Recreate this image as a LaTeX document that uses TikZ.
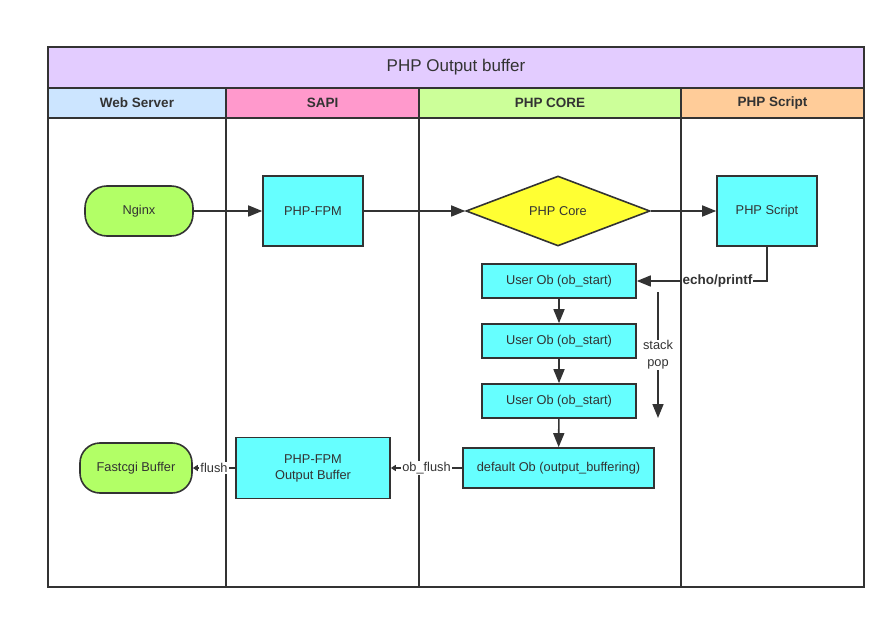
\documentclass[tikz,border=0pt]{standalone}
\usepackage{fontspec}
\setmainfont{Liberation Sans}
\usepackage{tikz}
\usetikzlibrary{arrows.meta}
\usetikzlibrary{shapes.geometric}

\definecolor{darkline}{RGB}{51,51,51}
\definecolor{titlebg}{RGB}{227,204,255}
\definecolor{webbg}{RGB}{204,229,255}
\definecolor{sapibg}{RGB}{255,153,204}
\definecolor{corebg}{RGB}{204,255,153}
\definecolor{scriptbg}{RGB}{255,204,153}
\definecolor{procfill}{RGB}{102,255,255}
\definecolor{termfill}{RGB}{178,255,102}
\definecolor{decfill}{RGB}{255,255,51}

\begin{document}
\begin{tikzpicture}[x=1pt,y=-1pt]
				\useasboundingbox (0,0) rectangle (896,620);
				% lanes
				\draw [darkline, line width=1.6pt] (48,118) rectangle (864,587);
				\foreach \x in {226,419,681}
					\draw [darkline, line width=1.6pt] (\x,118) -- (\x,587);
				\begin{scope}[every node/.style = {draw=darkline, line width=1.6pt, text=darkline, inner sep=0pt},
					lane/.style = {rectangle, minimum height=30pt, font=\bfseries\fontsize{13.5}{15}\selectfont}]
					\node [fill=titlebg, minimum width=816pt, minimum height=41pt, font=\fontsize{17}{19}\selectfont] (title) at (456,67.5) {PHP Output buffer};
					\node [lane, fill=webbg, minimum width=178pt] (web) at (137,103) {Web Server};
					\node [lane, fill=sapibg, minimum width=193pt] (sapi) at (322.5,103) {SAPI};
					\node [lane, fill=corebg, minimum width=262pt] (phpcore) at (550,103) {PHP CORE};
					\node [lane, fill=scriptbg, minimum width=183pt] (phpscript) at (772.5,103) {PHP Script};
				\end{scope}
				\begin{scope}[every node/.style = {draw=darkline, line width=1.6pt, text=darkline, inner sep=0pt,
						align=center, font=\fontsize{12.8}{16}\selectfont},
					proc/.style = {rectangle, fill=procfill},
					term/.style = {rectangle, rounded corners=22pt, fill=termfill}]
					\node [term, minimum width=108pt, minimum height=50pt] (nginx) at (139,211) {Nginx};
					\node [proc, minimum width=100pt, minimum height=70pt] (fpm) at (313,211) {PHP-FPM};
					\node [diamond, fill=decfill, minimum width=184pt, minimum height=70pt] (core) at (558,211) {PHP Core};
					\node [proc, minimum width=100pt, minimum height=70pt] (script) at (767,211) {PHP Script};
					\node [proc, minimum width=154pt, minimum height=34pt] (ob1) at (559,281) {User Ob (ob\_start)};
					\node [proc, minimum width=154pt, minimum height=34pt] (ob2) at (559,341) {User Ob (ob\_start)};
					\node [proc, minimum width=154pt, minimum height=34pt] (ob3) at (559,401) {User Ob (ob\_start)};
					\node [proc, minimum width=191pt, minimum height=40pt] (dflt) at (558.5,468) {default Ob (output\_buffering)};
					\node [proc, minimum width=154pt, minimum height=61pt] (fpmbuf) at (313,468) {PHP-FPM\\Output Buffer};
					\node [term, rounded corners=20pt, minimum width=112pt, minimum height=50pt] (fastcgi) at (136,468) {Fastcgi Buffer};
				\end{scope}
				\coordinate (popstart) at (658,292);
				\coordinate (popend) at (658,418);
				\begin{scope}[>={Triangle[length=14pt, width=11pt]},
						every edge/.style={draw=darkline, line width=1.6pt},
						every node/.style={fill=white, text=darkline, inner sep=1pt, font=\fontsize{12.8}{17}\selectfont}]
					\path [->] (nginx) edge (fpm);
					\path [->] (fpm) edge (core);
					\path [->] (core) edge (script);
					\draw [->, darkline, line width=1.6pt] (script) |- node [pos=0.69, font=\bfseries\fontsize{13.5}{15}\selectfont] {echo/printf} (ob1);
					\path [->] (ob1) edge (ob2);
					\path [->] (ob2) edge (ob3);
					\path [->] (ob3) edge (dflt);
					\path [->] (popstart) edge node [align=center] {stack\\pop} (popend);
					\path [-{Triangle[length=5pt, width=6pt]}] (dflt) edge node {ob\_flush} (fpmbuf);
					\path [-{Triangle[length=5pt, width=6pt]}] (fpmbuf) edge node {flush} (fastcgi);
				\end{scope}
			\end{tikzpicture}
\end{document}
